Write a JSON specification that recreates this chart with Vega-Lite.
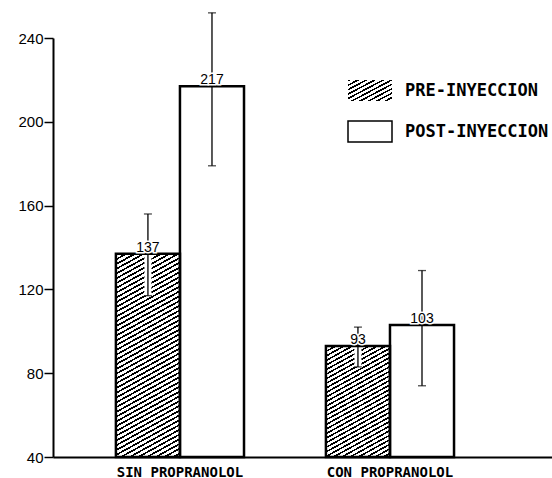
{
  "$schema": "https://vega.github.io/schema/vega-lite/v6.json",
  "width": 499,
  "height": 419,
  "autosize": {"type": "none"},
  "padding": {"left": 53, "top": 38, "right": 0, "bottom": 21},
  "background": "white",
  "config": {"view": {"stroke": null}, "font": "Liberation Sans"},
  "data": {
    "values": [
      {"grupo": "SIN PROPRANOLOL", "fase": "PRE-INYECCION", "valor": 137, "lo": 117, "hi": 156},
      {"grupo": "SIN PROPRANOLOL", "fase": "POST-INYECCION", "valor": 217, "lo": 179, "hi": 252},
      {"grupo": "CON PROPRANOLOL", "fase": "PRE-INYECCION", "valor": 93, "lo": 83, "hi": 102},
      {"grupo": "CON PROPRANOLOL", "fase": "POST-INYECCION", "valor": 103, "lo": 74, "hi": 129}
    ]
  },
  "encoding": {
    "x": {
      "field": "grupo", "type": "nominal", "title": null,
      "scale": {"domain": ["SIN PROPRANOLOL", "CON PROPRANOLOL"], "paddingInner": 0.39, "paddingOuter": 0.383, "align": 0.391},
      "axis": {"labelAngle": 0, "ticks": false, "labelFont": "DejaVu Sans Mono", "labelFontSize": 14, "labelFontWeight": "bold", "labelPadding": 8, "domainWidth": 2, "domainColor": "#000", "labelColor": "#000"}
    },
    "xOffset": {
      "field": "fase", "type": "nominal",
      "scale": {"domain": ["PRE-INYECCION", "POST-INYECCION"], "paddingInner": 0, "paddingOuter": 0}
    }
  },
  "layer": [
    {
      "transform": [{"filter": "datum.fase === 'POST-INYECCION'"}],
      "mark": {"type": "bar", "stroke": null},
      "encoding": {
        "y": {
          "field": "valor", "type": "quantitative", "title": null,
          "scale": {"domain": [40, 240], "nice": false, "zero": false},
          "axis": {"values": [40, 80, 120, 160, 200, 240], "grid": false, "tickSize": 9, "tickWidth": 1.5, "tickColor": "#000", "domainWidth": 2, "domainColor": "#000", "labelFontSize": 15, "labelColor": "#000", "labelPadding": 1, "labelFont": "Liberation Sans", "labelFlush": false}
        },
        "y2": {"datum": 40},
        "fill": {
          "field": "fase", "type": "nominal",
          "scale": {"domain": ["POST-INYECCION"], "range": ["#ffffff"]},
          "legend": {
            "title": null, "orient": "none", "legendX": 294, "legendY": 70.5, "padding": 0,
            "symbolType": "M-1,-0.48H1V0.48H-1Z", "symbolSize": 1936, "symbolStrokeColor": "#000", "symbolStrokeWidth": 1.5,
            "labelFont": "DejaVu Sans Mono", "labelFontSize": 17, "labelFontWeight": "bold", "labelColor": "#000", "labelOffset": 12,
            "encode": {"symbols": {"update": {"stroke": {"value": "#000"}, "strokeWidth": {"value": 1.5}}}}
          }
        }
      }
    },
    {
      "transform": [{"filter": "datum.fase === 'PRE-INYECCION'"}],
      "mark": {"type": "bar", "stroke": null, "fill": {"gradient": "linear", "x1": 0, "y1": 0, "x2": 1.045, "y2": 0.95, "stops": [
        {"offset": 0, "color": "#000"}, {"offset": 0.04, "color": "#000"}, {"offset": 0.04, "color": "#fff"}, {"offset": 0.1, "color": "#fff"},
        {"offset": 0.1, "color": "#000"}, {"offset": 0.14, "color": "#000"}, {"offset": 0.14, "color": "#fff"}, {"offset": 0.2, "color": "#fff"},
        {"offset": 0.2, "color": "#000"}, {"offset": 0.24, "color": "#000"}, {"offset": 0.24, "color": "#fff"}, {"offset": 0.3, "color": "#fff"},
        {"offset": 0.3, "color": "#000"}, {"offset": 0.34, "color": "#000"}, {"offset": 0.34, "color": "#fff"}, {"offset": 0.4, "color": "#fff"},
        {"offset": 0.4, "color": "#000"}, {"offset": 0.44, "color": "#000"}, {"offset": 0.44, "color": "#fff"}, {"offset": 0.5, "color": "#fff"},
        {"offset": 0.5, "color": "#000"}, {"offset": 0.54, "color": "#000"}, {"offset": 0.54, "color": "#fff"}, {"offset": 0.6, "color": "#fff"},
        {"offset": 0.6, "color": "#000"}, {"offset": 0.64, "color": "#000"}, {"offset": 0.64, "color": "#fff"}, {"offset": 0.7, "color": "#fff"},
        {"offset": 0.7, "color": "#000"}, {"offset": 0.74, "color": "#000"}, {"offset": 0.74, "color": "#fff"}, {"offset": 0.8, "color": "#fff"},
        {"offset": 0.8, "color": "#000"}, {"offset": 0.84, "color": "#000"}, {"offset": 0.84, "color": "#fff"}, {"offset": 0.9, "color": "#fff"},
        {"offset": 0.9, "color": "#000"}, {"offset": 0.94, "color": "#000"}, {"offset": 0.94, "color": "#fff"}, {"offset": 1, "color": "#fff"}
      ]}},
      "encoding": {
        "y": {"field": "valor", "type": "quantitative", "title": null},
        "y2": {"datum": 40},
        "opacity": {
          "field": "fase", "type": "ordinal",
          "scale": {"type": "ordinal", "domain": ["PRE-INYECCION"], "range": [1]},
          "legend": {
            "title": null, "orient": "none", "legendX": 294, "legendY": 29.5, "padding": 0,
            "symbolType": "M-1,-0.48H1V0.48H-1Z", "symbolSize": 1936, "symbolStrokeColor": "#000", "symbolStrokeWidth": 1.5,
            "labelFont": "DejaVu Sans Mono", "labelFontSize": 17, "labelFontWeight": "bold", "labelColor": "#000", "labelOffset": 12,
            "encode": {"symbols": {"update": {"stroke": {"value": "#000"}, "strokeWidth": {"value": 1.5}}}}
          }
        }
      }
    },
    {
      "transform": [{"filter": "datum.grupo === 'SIN PROPRANOLOL' && datum.fase === 'PRE-INYECCION'"}],
      "mark": {"type": "bar", "stroke": null, "fill": {"gradient": "linear", "x1": 0, "y1": 0, "x2": 0.1975, "y2": 1.1392, "stops": [
        {"offset": 0, "color": "#000"}, {"offset": 0.008, "color": "#000"}, {"offset": 0.008, "color": "#fff"}, {"offset": 0.02, "color": "#fff"},
        {"offset": 0.02, "color": "#000"}, {"offset": 0.028, "color": "#000"}, {"offset": 0.028, "color": "#fff"}, {"offset": 0.04, "color": "#fff"},
        {"offset": 0.04, "color": "#000"}, {"offset": 0.048, "color": "#000"}, {"offset": 0.048, "color": "#fff"}, {"offset": 0.06, "color": "#fff"},
        {"offset": 0.06, "color": "#000"}, {"offset": 0.068, "color": "#000"}, {"offset": 0.068, "color": "#fff"}, {"offset": 0.08, "color": "#fff"},
        {"offset": 0.08, "color": "#000"}, {"offset": 0.088, "color": "#000"}, {"offset": 0.088, "color": "#fff"}, {"offset": 0.1, "color": "#fff"},
        {"offset": 0.1, "color": "#000"}, {"offset": 0.108, "color": "#000"}, {"offset": 0.108, "color": "#fff"}, {"offset": 0.12, "color": "#fff"},
        {"offset": 0.12, "color": "#000"}, {"offset": 0.128, "color": "#000"}, {"offset": 0.128, "color": "#fff"}, {"offset": 0.14, "color": "#fff"},
        {"offset": 0.14, "color": "#000"}, {"offset": 0.148, "color": "#000"}, {"offset": 0.148, "color": "#fff"}, {"offset": 0.16, "color": "#fff"},
        {"offset": 0.16, "color": "#000"}, {"offset": 0.168, "color": "#000"}, {"offset": 0.168, "color": "#fff"}, {"offset": 0.18, "color": "#fff"},
        {"offset": 0.18, "color": "#000"}, {"offset": 0.188, "color": "#000"}, {"offset": 0.188, "color": "#fff"}, {"offset": 0.2, "color": "#fff"},
        {"offset": 0.2, "color": "#000"}, {"offset": 0.208, "color": "#000"}, {"offset": 0.208, "color": "#fff"}, {"offset": 0.22, "color": "#fff"},
        {"offset": 0.22, "color": "#000"}, {"offset": 0.228, "color": "#000"}, {"offset": 0.228, "color": "#fff"}, {"offset": 0.24, "color": "#fff"},
        {"offset": 0.24, "color": "#000"}, {"offset": 0.248, "color": "#000"}, {"offset": 0.248, "color": "#fff"}, {"offset": 0.26, "color": "#fff"},
        {"offset": 0.26, "color": "#000"}, {"offset": 0.268, "color": "#000"}, {"offset": 0.268, "color": "#fff"}, {"offset": 0.28, "color": "#fff"},
        {"offset": 0.28, "color": "#000"}, {"offset": 0.288, "color": "#000"}, {"offset": 0.288, "color": "#fff"}, {"offset": 0.3, "color": "#fff"},
        {"offset": 0.3, "color": "#000"}, {"offset": 0.308, "color": "#000"}, {"offset": 0.308, "color": "#fff"}, {"offset": 0.32, "color": "#fff"},
        {"offset": 0.32, "color": "#000"}, {"offset": 0.328, "color": "#000"}, {"offset": 0.328, "color": "#fff"}, {"offset": 0.34, "color": "#fff"},
        {"offset": 0.34, "color": "#000"}, {"offset": 0.348, "color": "#000"}, {"offset": 0.348, "color": "#fff"}, {"offset": 0.36, "color": "#fff"},
        {"offset": 0.36, "color": "#000"}, {"offset": 0.368, "color": "#000"}, {"offset": 0.368, "color": "#fff"}, {"offset": 0.38, "color": "#fff"},
        {"offset": 0.38, "color": "#000"}, {"offset": 0.388, "color": "#000"}, {"offset": 0.388, "color": "#fff"}, {"offset": 0.4, "color": "#fff"},
        {"offset": 0.4, "color": "#000"}, {"offset": 0.408, "color": "#000"}, {"offset": 0.408, "color": "#fff"}, {"offset": 0.42, "color": "#fff"},
        {"offset": 0.42, "color": "#000"}, {"offset": 0.428, "color": "#000"}, {"offset": 0.428, "color": "#fff"}, {"offset": 0.44, "color": "#fff"},
        {"offset": 0.44, "color": "#000"}, {"offset": 0.448, "color": "#000"}, {"offset": 0.448, "color": "#fff"}, {"offset": 0.46, "color": "#fff"},
        {"offset": 0.46, "color": "#000"}, {"offset": 0.468, "color": "#000"}, {"offset": 0.468, "color": "#fff"}, {"offset": 0.48, "color": "#fff"},
        {"offset": 0.48, "color": "#000"}, {"offset": 0.488, "color": "#000"}, {"offset": 0.488, "color": "#fff"}, {"offset": 0.5, "color": "#fff"},
        {"offset": 0.5, "color": "#000"}, {"offset": 0.508, "color": "#000"}, {"offset": 0.508, "color": "#fff"}, {"offset": 0.52, "color": "#fff"},
        {"offset": 0.52, "color": "#000"}, {"offset": 0.528, "color": "#000"}, {"offset": 0.528, "color": "#fff"}, {"offset": 0.54, "color": "#fff"},
        {"offset": 0.54, "color": "#000"}, {"offset": 0.548, "color": "#000"}, {"offset": 0.548, "color": "#fff"}, {"offset": 0.56, "color": "#fff"},
        {"offset": 0.56, "color": "#000"}, {"offset": 0.568, "color": "#000"}, {"offset": 0.568, "color": "#fff"}, {"offset": 0.58, "color": "#fff"},
        {"offset": 0.58, "color": "#000"}, {"offset": 0.588, "color": "#000"}, {"offset": 0.588, "color": "#fff"}, {"offset": 0.6, "color": "#fff"},
        {"offset": 0.6, "color": "#000"}, {"offset": 0.608, "color": "#000"}, {"offset": 0.608, "color": "#fff"}, {"offset": 0.62, "color": "#fff"},
        {"offset": 0.62, "color": "#000"}, {"offset": 0.628, "color": "#000"}, {"offset": 0.628, "color": "#fff"}, {"offset": 0.64, "color": "#fff"},
        {"offset": 0.64, "color": "#000"}, {"offset": 0.648, "color": "#000"}, {"offset": 0.648, "color": "#fff"}, {"offset": 0.66, "color": "#fff"},
        {"offset": 0.66, "color": "#000"}, {"offset": 0.668, "color": "#000"}, {"offset": 0.668, "color": "#fff"}, {"offset": 0.68, "color": "#fff"},
        {"offset": 0.68, "color": "#000"}, {"offset": 0.688, "color": "#000"}, {"offset": 0.688, "color": "#fff"}, {"offset": 0.7, "color": "#fff"},
        {"offset": 0.7, "color": "#000"}, {"offset": 0.708, "color": "#000"}, {"offset": 0.708, "color": "#fff"}, {"offset": 0.72, "color": "#fff"},
        {"offset": 0.72, "color": "#000"}, {"offset": 0.728, "color": "#000"}, {"offset": 0.728, "color": "#fff"}, {"offset": 0.74, "color": "#fff"},
        {"offset": 0.74, "color": "#000"}, {"offset": 0.748, "color": "#000"}, {"offset": 0.748, "color": "#fff"}, {"offset": 0.76, "color": "#fff"},
        {"offset": 0.76, "color": "#000"}, {"offset": 0.768, "color": "#000"}, {"offset": 0.768, "color": "#fff"}, {"offset": 0.78, "color": "#fff"},
        {"offset": 0.78, "color": "#000"}, {"offset": 0.788, "color": "#000"}, {"offset": 0.788, "color": "#fff"}, {"offset": 0.8, "color": "#fff"},
        {"offset": 0.8, "color": "#000"}, {"offset": 0.808, "color": "#000"}, {"offset": 0.808, "color": "#fff"}, {"offset": 0.82, "color": "#fff"},
        {"offset": 0.82, "color": "#000"}, {"offset": 0.828, "color": "#000"}, {"offset": 0.828, "color": "#fff"}, {"offset": 0.84, "color": "#fff"},
        {"offset": 0.84, "color": "#000"}, {"offset": 0.848, "color": "#000"}, {"offset": 0.848, "color": "#fff"}, {"offset": 0.86, "color": "#fff"},
        {"offset": 0.86, "color": "#000"}, {"offset": 0.868, "color": "#000"}, {"offset": 0.868, "color": "#fff"}, {"offset": 0.88, "color": "#fff"},
        {"offset": 0.88, "color": "#000"}, {"offset": 0.888, "color": "#000"}, {"offset": 0.888, "color": "#fff"}, {"offset": 0.9, "color": "#fff"},
        {"offset": 0.9, "color": "#000"}, {"offset": 0.908, "color": "#000"}, {"offset": 0.908, "color": "#fff"}, {"offset": 0.92, "color": "#fff"},
        {"offset": 0.92, "color": "#000"}, {"offset": 0.928, "color": "#000"}, {"offset": 0.928, "color": "#fff"}, {"offset": 0.94, "color": "#fff"},
        {"offset": 0.94, "color": "#000"}, {"offset": 0.948, "color": "#000"}, {"offset": 0.948, "color": "#fff"}, {"offset": 0.96, "color": "#fff"},
        {"offset": 0.96, "color": "#000"}, {"offset": 0.968, "color": "#000"}, {"offset": 0.968, "color": "#fff"}, {"offset": 0.98, "color": "#fff"},
        {"offset": 0.98, "color": "#000"}, {"offset": 0.988, "color": "#000"}, {"offset": 0.988, "color": "#fff"}, {"offset": 1, "color": "#fff"}
      ]}},
      "encoding": {"y": {"field": "valor", "type": "quantitative", "title": null}, "y2": {"datum": 40}}
    },
    {
      "transform": [{"filter": "datum.grupo === 'CON PROPRANOLOL' && datum.fase === 'PRE-INYECCION'"}],
      "mark": {"type": "bar", "stroke": null, "fill": {"gradient": "linear", "x1": 0, "y1": 0, "x2": 0.3795, "y2": 1.1967, "stops": [
        {"offset": 0, "color": "#000"}, {"offset": 0.0125, "color": "#000"}, {"offset": 0.0125, "color": "#fff"}, {"offset": 0.03125, "color": "#fff"},
        {"offset": 0.03125, "color": "#000"}, {"offset": 0.04375, "color": "#000"}, {"offset": 0.04375, "color": "#fff"}, {"offset": 0.0625, "color": "#fff"},
        {"offset": 0.0625, "color": "#000"}, {"offset": 0.075, "color": "#000"}, {"offset": 0.075, "color": "#fff"}, {"offset": 0.09375, "color": "#fff"},
        {"offset": 0.09375, "color": "#000"}, {"offset": 0.10625, "color": "#000"}, {"offset": 0.10625, "color": "#fff"}, {"offset": 0.125, "color": "#fff"},
        {"offset": 0.125, "color": "#000"}, {"offset": 0.1375, "color": "#000"}, {"offset": 0.1375, "color": "#fff"}, {"offset": 0.15625, "color": "#fff"},
        {"offset": 0.15625, "color": "#000"}, {"offset": 0.16875, "color": "#000"}, {"offset": 0.16875, "color": "#fff"}, {"offset": 0.1875, "color": "#fff"},
        {"offset": 0.1875, "color": "#000"}, {"offset": 0.2, "color": "#000"}, {"offset": 0.2, "color": "#fff"}, {"offset": 0.21875, "color": "#fff"},
        {"offset": 0.21875, "color": "#000"}, {"offset": 0.23125, "color": "#000"}, {"offset": 0.23125, "color": "#fff"}, {"offset": 0.25, "color": "#fff"},
        {"offset": 0.25, "color": "#000"}, {"offset": 0.2625, "color": "#000"}, {"offset": 0.2625, "color": "#fff"}, {"offset": 0.28125, "color": "#fff"},
        {"offset": 0.28125, "color": "#000"}, {"offset": 0.29375, "color": "#000"}, {"offset": 0.29375, "color": "#fff"}, {"offset": 0.3125, "color": "#fff"},
        {"offset": 0.3125, "color": "#000"}, {"offset": 0.325, "color": "#000"}, {"offset": 0.325, "color": "#fff"}, {"offset": 0.34375, "color": "#fff"},
        {"offset": 0.34375, "color": "#000"}, {"offset": 0.35625, "color": "#000"}, {"offset": 0.35625, "color": "#fff"}, {"offset": 0.375, "color": "#fff"},
        {"offset": 0.375, "color": "#000"}, {"offset": 0.3875, "color": "#000"}, {"offset": 0.3875, "color": "#fff"}, {"offset": 0.40625, "color": "#fff"},
        {"offset": 0.40625, "color": "#000"}, {"offset": 0.41875, "color": "#000"}, {"offset": 0.41875, "color": "#fff"}, {"offset": 0.4375, "color": "#fff"},
        {"offset": 0.4375, "color": "#000"}, {"offset": 0.45, "color": "#000"}, {"offset": 0.45, "color": "#fff"}, {"offset": 0.46875, "color": "#fff"},
        {"offset": 0.46875, "color": "#000"}, {"offset": 0.48125, "color": "#000"}, {"offset": 0.48125, "color": "#fff"}, {"offset": 0.5, "color": "#fff"},
        {"offset": 0.5, "color": "#000"}, {"offset": 0.5125, "color": "#000"}, {"offset": 0.5125, "color": "#fff"}, {"offset": 0.53125, "color": "#fff"},
        {"offset": 0.53125, "color": "#000"}, {"offset": 0.54375, "color": "#000"}, {"offset": 0.54375, "color": "#fff"}, {"offset": 0.5625, "color": "#fff"},
        {"offset": 0.5625, "color": "#000"}, {"offset": 0.575, "color": "#000"}, {"offset": 0.575, "color": "#fff"}, {"offset": 0.59375, "color": "#fff"},
        {"offset": 0.59375, "color": "#000"}, {"offset": 0.60625, "color": "#000"}, {"offset": 0.60625, "color": "#fff"}, {"offset": 0.625, "color": "#fff"},
        {"offset": 0.625, "color": "#000"}, {"offset": 0.6375, "color": "#000"}, {"offset": 0.6375, "color": "#fff"}, {"offset": 0.65625, "color": "#fff"},
        {"offset": 0.65625, "color": "#000"}, {"offset": 0.66875, "color": "#000"}, {"offset": 0.66875, "color": "#fff"}, {"offset": 0.6875, "color": "#fff"},
        {"offset": 0.6875, "color": "#000"}, {"offset": 0.7, "color": "#000"}, {"offset": 0.7, "color": "#fff"}, {"offset": 0.71875, "color": "#fff"},
        {"offset": 0.71875, "color": "#000"}, {"offset": 0.73125, "color": "#000"}, {"offset": 0.73125, "color": "#fff"}, {"offset": 0.75, "color": "#fff"},
        {"offset": 0.75, "color": "#000"}, {"offset": 0.7625, "color": "#000"}, {"offset": 0.7625, "color": "#fff"}, {"offset": 0.78125, "color": "#fff"},
        {"offset": 0.78125, "color": "#000"}, {"offset": 0.79375, "color": "#000"}, {"offset": 0.79375, "color": "#fff"}, {"offset": 0.8125, "color": "#fff"},
        {"offset": 0.8125, "color": "#000"}, {"offset": 0.825, "color": "#000"}, {"offset": 0.825, "color": "#fff"}, {"offset": 0.84375, "color": "#fff"},
        {"offset": 0.84375, "color": "#000"}, {"offset": 0.85625, "color": "#000"}, {"offset": 0.85625, "color": "#fff"}, {"offset": 0.875, "color": "#fff"},
        {"offset": 0.875, "color": "#000"}, {"offset": 0.8875, "color": "#000"}, {"offset": 0.8875, "color": "#fff"}, {"offset": 0.90625, "color": "#fff"},
        {"offset": 0.90625, "color": "#000"}, {"offset": 0.91875, "color": "#000"}, {"offset": 0.91875, "color": "#fff"}, {"offset": 0.9375, "color": "#fff"},
        {"offset": 0.9375, "color": "#000"}, {"offset": 0.95, "color": "#000"}, {"offset": 0.95, "color": "#fff"}, {"offset": 0.96875, "color": "#fff"},
        {"offset": 0.96875, "color": "#000"}, {"offset": 0.98125, "color": "#000"}, {"offset": 0.98125, "color": "#fff"}, {"offset": 1, "color": "#fff"}
      ]}},
      "encoding": {"y": {"field": "valor", "type": "quantitative", "title": null}, "y2": {"datum": 40}}
    },
    {
      "transform": [{"filter": "datum.fase === 'PRE-INYECCION'"}],
      "mark": {"type": "rule", "color": "#fff", "strokeWidth": 7},
      "encoding": {"y": {"field": "lo", "type": "quantitative", "title": null}, "y2": {"field": "valor"}}
    },
    {
      "mark": {"type": "bar", "fillOpacity": 0, "stroke": "#000", "strokeWidth": 2.5},
      "encoding": {"y": {"field": "valor", "type": "quantitative", "title": null}, "y2": {"datum": 40}}
    },
    {
      "mark": {"type": "rule", "color": "#000", "strokeWidth": 1.3},
      "encoding": {"y": {"field": "lo", "type": "quantitative", "title": null}, "y2": {"field": "hi"}}
    },
    {
      "mark": {"type": "tick", "orient": "horizontal", "size": 8, "thickness": 1.3, "color": "#000"},
      "encoding": {"y": {"field": "lo", "type": "quantitative", "title": null}}
    },
    {
      "mark": {"type": "tick", "orient": "horizontal", "size": 8, "thickness": 1.3, "color": "#000"},
      "encoding": {"y": {"field": "hi", "type": "quantitative", "title": null}}
    },
    {
      "mark": {"type": "text", "baseline": "alphabetic", "dy": -2, "fontSize": 14, "font": "Liberation Sans", "fill": "#fff", "stroke": "#fff", "strokeWidth": 3},
      "encoding": {"y": {"field": "valor", "type": "quantitative", "title": null}, "text": {"field": "valor", "type": "quantitative"}}
    },
    {
      "mark": {"type": "text", "baseline": "alphabetic", "dy": -2, "fontSize": 14, "font": "Liberation Sans", "color": "#000"},
      "encoding": {"y": {"field": "valor", "type": "quantitative", "title": null}, "text": {"field": "valor", "type": "quantitative"}}
    }
  ]
}
